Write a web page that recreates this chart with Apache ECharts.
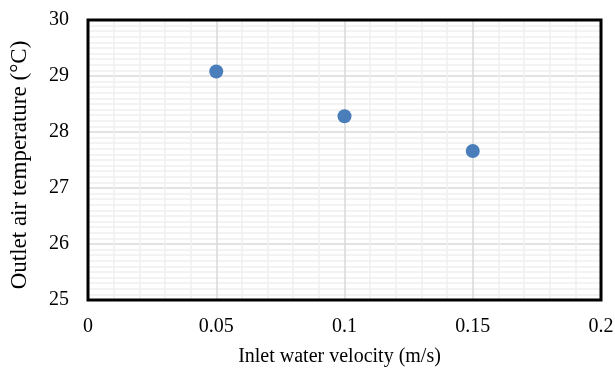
<!DOCTYPE html>
<html><head><meta charset="utf-8">
<script src="https://cdn.jsdelivr.net/npm/echarts@6/dist/echarts.min.js"></script>
<style>html,body{margin:0;padding:0;background:#fff}#c{width:615px;height:368px}</style>
</head><body><div id="c"></div>
<script>
const xValues = [0.05, 0.1, 0.15];
const yValues = [29.08, 28.28, 27.66];
const xTicks = [0, 0.05, 0.1, 0.15, 0.2];
const yTicks = [25, 26, 27, 28, 29, 30];
const xTitle = 'Inlet water velocity (m/s)';
const yTitle = 'Outlet air temperature (°C)';

const chart = echarts.init(document.getElementById('c'), null, {renderer: 'canvas'});
const font = 'Liberation Serif';
chart.setOption({
  animation: false,
  grid: {left: 88, right: 14, top: 20, bottom: 68, show: true, z: 5,
         containLabel: false, outerBoundsMode: 'none',
         borderColor: '#000', borderWidth: 3, backgroundColor: 'rgba(0,0,0,0)'},
  xAxis: {
    type: 'value', min: xTicks[0], max: xTicks[xTicks.length-1], interval: 0.05,
    name: xTitle, nameLocation: 'middle', nameGap: 47,
    nameTextStyle: {fontFamily: font, fontSize: 20, color: '#000', padding: [0, 10, 0, 0]},
    axisLine: {show: false}, axisTick: {show: false},
    axisLabel: {fontFamily: font, fontSize: 20, color: '#000', margin: 17,
      formatter: v => String(+v.toFixed(2))},
    splitLine: {show: true, lineStyle: {color: '#d9d9d9', width: 1.5}},
    minorTick: {show: false, splitNumber: 5},
    minorSplitLine: {show: true, lineStyle: {color: '#efefef', width: 1.5}}
  },
  yAxis: {
    type: 'value', min: yTicks[0], max: yTicks[yTicks.length-1], interval: 1,
    name: yTitle, nameLocation: 'middle', nameGap: 57,
    nameTextStyle: {fontFamily: font, fontSize: 23, color: '#000', padding: [0, 10, 0, 0]},
    axisLine: {show: false}, axisTick: {show: false},
    axisLabel: {fontFamily: font, fontSize: 20, color: '#000', margin: 19},
    splitLine: {show: true, lineStyle: {color: '#d9d9d9', width: 1.5}},
    minorTick: {show: false, splitNumber: 10},
    minorSplitLine: {show: true, lineStyle: {color: '#efefef', width: 1.5}}
  },
  series: [{
    type: 'scatter', symbol: 'circle', symbolSize: 14, z: 6,
    itemStyle: {color: '#4a7ebb', opacity: 1},
    data: xValues.map((x, i) => [x, yValues[i]])
  }]
});
</script></body></html>
